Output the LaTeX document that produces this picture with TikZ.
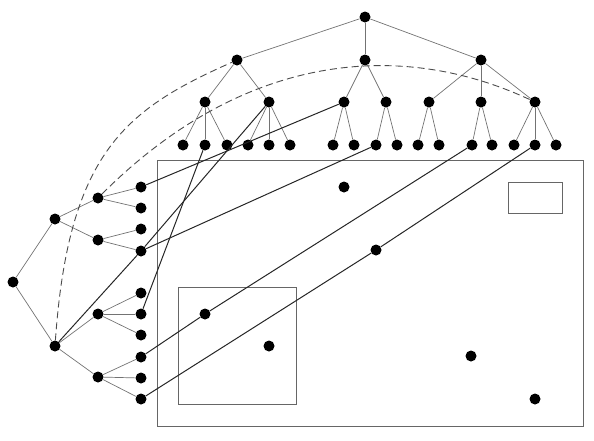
\documentclass[tikz,border=0pt]{standalone}
\begin{document}
\begin{tikzpicture}[x=1pt,y=-1pt,
  dot/.style={circle,fill=black,inner sep=0pt,minimum size=11pt},
  edge/.style={draw=black!55,line width=0.7pt},
  link/.style={draw=black!85,line width=1pt},
  frame/.style={draw=black!60,line width=0.9pt},
  arcline/.style={draw=black!70,line width=0.9pt,dash pattern=on 7pt off 4pt}]
\useasboundingbox (0,0) rectangle (594,440);
% frames
\draw[frame] (157,160) rectangle (583,426);
\draw[frame] (178,287) rectangle (296,404);
\draw[frame] (508,182) rectangle (562,213);
% top tree
\node[dot] (t0) at (365,17) {};
\node[dot] (t1) at (237,60) {};
\node[dot] (t2) at (365,60) {};
\node[dot] (t3) at (481,60) {};
\node[dot] (t11) at (205,102) {};
\node[dot] (t12) at (269,102) {};
\node[dot] (t21) at (344,102) {};
\node[dot] (t22) at (386,102) {};
\node[dot] (t31) at (429,102) {};
\node[dot] (t32) at (481,102) {};
\node[dot] (t33) at (535,102) {};
\node[dot] (t111) at (183,145) {};
\node[dot] (t112) at (205,145) {};
\node[dot] (t113) at (227,145) {};
\node[dot] (t121) at (248,145) {};
\node[dot] (t122) at (269,145) {};
\node[dot] (t123) at (290,145) {};
\node[dot] (t211) at (333,145) {};
\node[dot] (t212) at (354,145) {};
\node[dot] (t221) at (376,145) {};
\node[dot] (t222) at (397,145) {};
\node[dot] (t311) at (418,145) {};
\node[dot] (t312) at (439,145) {};
\node[dot] (t321) at (472,145) {};
\node[dot] (t322) at (492,145) {};
\node[dot] (t331) at (514,145) {};
\node[dot] (t332) at (535,145) {};
\node[dot] (t333) at (556,145) {};
% left tree
\node[dot] (l0) at (13,282) {};
\node[dot] (l1) at (55,219) {};
\node[dot] (l2) at (55,346) {};
\node[dot] (l11) at (98,198) {};
\node[dot] (l12) at (98,240) {};
\node[dot] (l21) at (98,314) {};
\node[dot] (l22) at (98,377) {};
\node[dot] (l111) at (141,187) {};
\node[dot] (l112) at (141,208) {};
\node[dot] (l121) at (141,229) {};
\node[dot] (l122) at (141,251) {};
\node[dot] (l211) at (141,293) {};
\node[dot] (l212) at (141,314) {};
\node[dot] (l213) at (141,335) {};
\node[dot] (l221) at (141,357) {};
\node[dot] (l222) at (141,378) {};
\node[dot] (l223) at (141,399) {};
% dots inside the frame
\node[dot] (d1) at (344,187) {};
\node[dot] (d2) at (376,250) {};
\node[dot] (d3) at (471,356) {};
\node[dot] (d4) at (535,399) {};
\node[dot] (d5) at (205,314) {};
\node[dot] (d6) at (269,346) {};
% tree edges
\draw[edge] (t0) -- (t1);
\draw[edge] (t0) -- (t2);
\draw[edge] (t0) -- (t3);
\draw[edge] (t1) -- (t11);
\draw[edge] (t1) -- (t12);
\draw[edge] (t2) -- (t21);
\draw[edge] (t2) -- (t22);
\draw[edge] (t3) -- (t31);
\draw[edge] (t3) -- (t32);
\draw[edge] (t3) -- (t33);
\draw[edge] (t11) -- (t111);
\draw[edge] (t11) -- (t112);
\draw[edge] (t11) -- (t113);
\draw[edge] (t12) -- (t121);
\draw[edge] (t12) -- (t122);
\draw[edge] (t12) -- (t123);
\draw[edge] (t21) -- (t211);
\draw[edge] (t21) -- (t212);
\draw[edge] (t22) -- (t221);
\draw[edge] (t22) -- (t222);
\draw[edge] (t31) -- (t311);
\draw[edge] (t31) -- (t312);
\draw[edge] (t32) -- (t321);
\draw[edge] (t32) -- (t322);
\draw[edge] (t33) -- (t331);
\draw[edge] (t33) -- (t332);
\draw[edge] (t33) -- (t333);
\draw[edge] (l0) -- (l1);
\draw[edge] (l0) -- (l2);
\draw[edge] (l1) -- (l11);
\draw[edge] (l1) -- (l12);
\draw[edge] (l2) -- (l21);
\draw[edge] (l2) -- (l22);
\draw[edge] (l11) -- (l111);
\draw[edge] (l11) -- (l112);
\draw[edge] (l12) -- (l121);
\draw[edge] (l12) -- (l122);
\draw[edge] (l21) -- (l211);
\draw[edge] (l21) -- (l212);
\draw[edge] (l21) -- (l213);
\draw[edge] (l22) -- (l221);
\draw[edge] (l22) -- (l222);
\draw[edge] (l22) -- (l223);
% dashed arcs
\draw[arcline] (l2) .. controls (68.7,150.5) and (127.3,108.8) .. (t1);
\draw[arcline] (l11) .. controls (243,53) and (400,39) .. (t33);
% long links
\draw[link] (l111) -- (t21);
\draw[link] (l2) -- (l122);
\draw[link] (l122) -- (t12);
\draw[link] (l122) -- (t221);
\draw[link] (l212) -- (t112);
\draw[link] (l221) -- (d5) -- (t321);
\draw[link] (l223) -- (d2) -- (t332);
\end{tikzpicture}
\end{document}
